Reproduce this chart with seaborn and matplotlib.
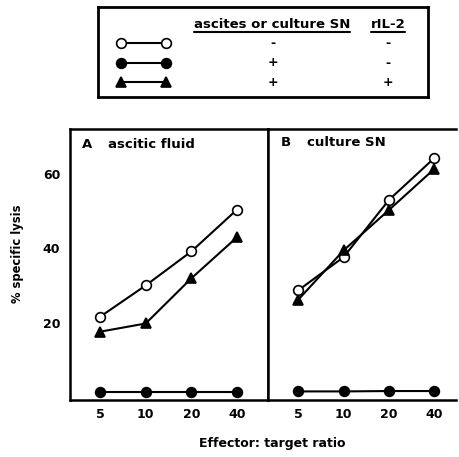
import matplotlib
matplotlib.use("Agg")
import matplotlib.pyplot as plt
import seaborn as sns
import numpy as np

sns.set_style("white")
plt.rcParams['font.family'] = ['DejaVu Sans']
plt.rcParams['font.weight'] = 'bold'
plt.rcParams['text.color'] = 'black'
plt.rcParams['xtick.color'] = 'black'
plt.rcParams['ytick.color'] = 'black'

ratios = ["5", "10", "20", "40"]
a_open = [21.7, 30.1, 39.2, 50.4]
a_filled = [1.5, 1.5, 1.5, 1.5]
a_tri = [17.7, 19.9, 32.0, 43.0]
b_open = [28.8, 37.7, 53.0, 64.2]
b_filled = [1.7, 1.7, 1.8, 1.8]
b_tri = [26.3, 39.5, 50.3, 61.3]
yticks = [20, 40, 60]
panel_titles = ["A", "ascitic fluid", "B", "culture SN"]
legend_headers = ["ascites or culture SN", "rIL-2"]
legend_signs = [["-", "-"], ["+", "-"], ["+", "+"]]

W, H = 460, 457
fig = plt.figure(figsize=(W / 100, H / 100), dpi=100)

def fx(px):
    return px / W

def fy(py):
    return 1 - py / H

axA = fig.add_axes([fx(70), fy(400), fx(268 - 70), fy(129) - fy(400)])
axB = fig.add_axes([fx(268), fy(400), fx(456 - 268), fy(129) - fy(400)])

styles = [
    dict(marker="o", mfc="white", mec="black", ms=7),
    dict(marker="o", mfc="black", mec="black", ms=7),
    dict(marker="^", mfc="black", mec="black", ms=7),
]

pos = np.arange(len(ratios))
for ax, series in [(axA, [a_open, a_filled, a_tri]), (axB, [b_open, b_filled, b_tri])]:
    for vals, st in zip(series, styles):
        sns.lineplot(x=pos, y=vals, ax=ax, color="black", lw=1.5, markeredgewidth=1.2, **st)
    ax.set_ylim(-0.6, 72)
    ax.set_xticks(pos)
    ax.set_xticklabels(ratios, fontsize=9, fontweight="bold")
    ax.tick_params(length=0, pad=6)
    for s in ax.spines.values():
        s.set_linewidth(1.8)
        s.set_color("black")

axA.set_xlim(-0.66, 3.68)
axB.set_xlim(-0.67, 3.48)
axA.set_yticks(yticks)
axA.set_yticklabels([str(t) for t in yticks], fontsize=9, fontweight="bold")
axA.tick_params(axis="y", pad=7)
axB.set_yticks([])
axB.spines["right"].set_visible(False)
fig.text(fx(18), fy(254), "% specific lysis", fontsize=8.3, fontweight="bold",
         rotation=90, ha="center", va="center")

fig.text(fx(82), fy(144), panel_titles[0], fontsize=9.5, fontweight="bold", ha="left", va="center")
fig.text(fx(108), fy(144), panel_titles[1], fontsize=9.5, fontweight="bold", ha="left", va="center")
fig.text(fx(281), fy(142), panel_titles[2], fontsize=9.5, fontweight="bold", ha="left", va="center")
fig.text(fx(307), fy(142), panel_titles[3], fontsize=9.5, fontweight="bold", ha="left", va="center")

fig.text(fx(272), fy(443), "Effector: target ratio", fontsize=9, fontweight="bold", ha="center", va="center")

# legend table
axL = fig.add_axes([fx(98), fy(97), fx(428 - 98), fy(7) - fy(97)])
axL.set_xlim(98, 428)
axL.set_ylim(97, 7)
axL.set_xticks([])
axL.set_yticks([])
for s in axL.spines.values():
    s.set_linewidth(2)
    s.set_color("black")
hx = [272, 388]
fig.canvas.draw()
r = fig.canvas.get_renderer()
for x, t in zip(hx, legend_headers):
    txt = axL.text(x, 25, t, fontsize=9.5, fontweight="bold", ha="center", va="center")
    bb = txt.get_window_extent(renderer=r).transformed(axL.transData.inverted())
    axL.plot([bb.x0, bb.x1], [32, 32], color="black", lw=1.5)
rows_y = [43, 63, 82]
for y, st, signs in zip(rows_y, styles, legend_signs):
    axL.plot([121, 166], [y, y], color="black", lw=1.5, markeredgewidth=1.2, **st)
    for x, sgn in zip([273, 388], signs):
        axL.text(x, y, sgn, fontsize=9, fontweight="bold", ha="center", va="center")

fig.savefig("out.png", dpi=100)
